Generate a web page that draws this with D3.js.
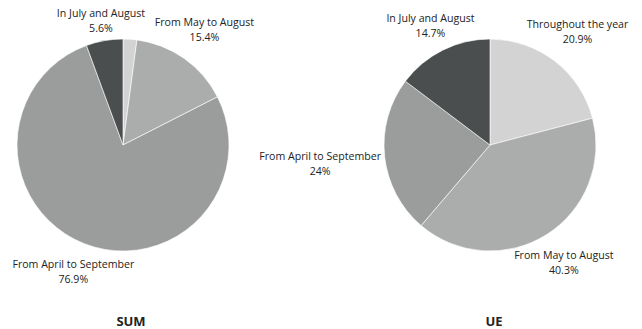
<!DOCTYPE html>
<html>
<head>
<meta charset="utf-8">
<script src="https://cdn.jsdelivr.net/npm/d3@7"></script>
<style>
  body { margin: 0; background: #fff; }
  text { font-family: "Open Sans", sans-serif; fill: #222; }
</style>
</head>
<body>
<svg id="chart" width="642" height="329"></svg>
<script>
// categories, clockwise from 12 o'clock
const categories = ['Throughout the year', 'From May to August', 'From April to September', 'In July and August'];
const sumValues = [2.1, 15.4, 76.9, 5.6];
const ueValues = [20.9, 40.3, 24, 14.7];
const panels = ['SUM', 'UE'];
// the small SUM slice has no label in the source
const sumShown = [false, true, true, true];
const ueShown = [true, true, true, true];

const colors = d3.scaleOrdinal()
  .domain(categories)
  .range(['#d2d3d2', '#abacac', '#9b9d9d', '#4b4e4f']);

const svg = d3.select('#chart');
const radius = 106,
  labelRadius = 110,
  lineH = 14.5,
  fontSize = 10.6;

const pie = d3.pie().sort(null).value(d => d.value);
const arc = d3.arc().innerRadius(0).outerRadius(radius);

function drawPie(g, values, shown, title, cx, cy, titleX) {
  const data = categories.map((c, i) => ({ name: c, value: values[i], shown: shown[i] }));
  const arcs = pie(data);

  g.attr('transform', `translate(${cx},${cy})`);

  g.selectAll('path.slice')
    .data(arcs)
    .join('path')
    .attr('class', 'slice')
    .attr('d', arc)
    .attr('fill', d => colors(d.data.name))
    .attr('stroke', '#fff')
    .attr('stroke-width', 0.6);

  let labels = g.selectAll('g.label')
    .data(arcs.filter(d => d.data.shown))
    .join('g')
    .attr('class', 'label');

  labels.append('text')
    .attr('text-anchor', 'middle')
    .attr('font-size', fontSize)
    .attr('y', -lineH / 2 + 3.8)
    .text(d => d.data.name);

  labels.append('text')
    .attr('text-anchor', 'middle')
    .attr('font-size', fontSize)
    .attr('y', lineH / 2 + 3.8)
    .text(d => (d.data.value + '%'));

  // slide each label box out along its slice's mid-angle until it clears the pie
  labels.each(function(d) {
    let bb = this.getBBox();
    let a = (d.startAngle + d.endAngle) / 2;
    let dx = Math.sin(a), dy = -Math.cos(a);
    let r = labelRadius + Math.hypot(dx * bb.width / 2, dy * bb.height / 2);
    d3.select(this).attr('transform', `translate(${dx * r},${dy * r})`);
  });

  g.append('text')
    .attr('text-anchor', 'middle')
    .attr('font-size', 13)
    .attr('font-weight', 'bold')
    .attr('x', titleX - cx)
    .attr('y', 181)
    .text(title);
}

drawPie(svg.append('g'), sumValues, sumShown, panels[0], 123, 145, 131);
drawPie(svg.append('g'), ueValues, ueShown, panels[1], 490, 145, 494);
</script>
</body>
</html>
